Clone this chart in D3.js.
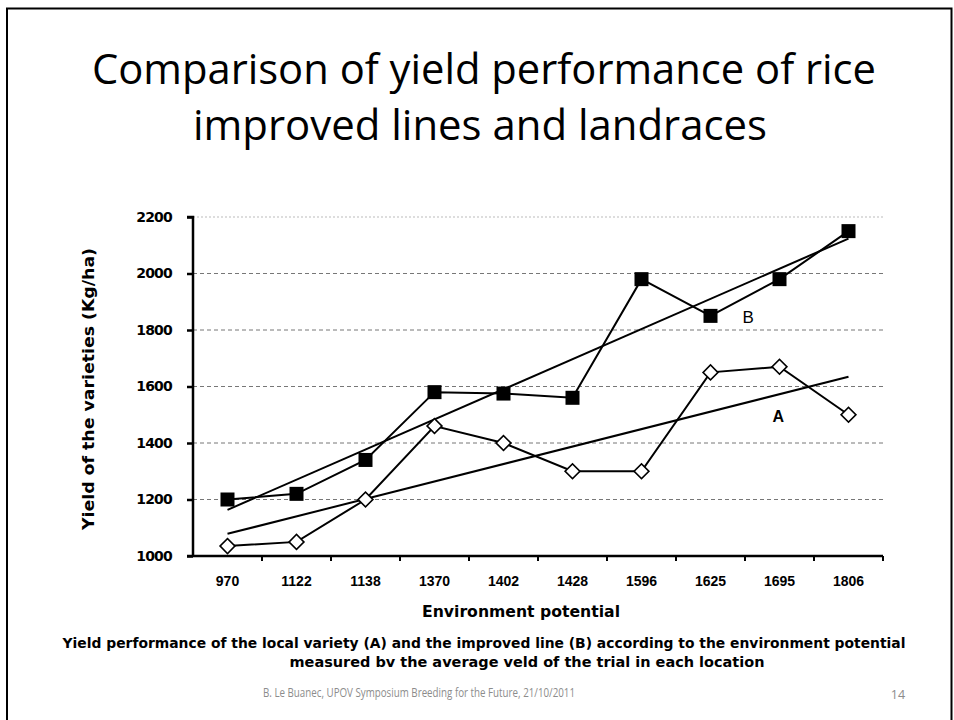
<!DOCTYPE html>
<html>
<head>
<meta charset="utf-8">
<script src="https://cdn.jsdelivr.net/npm/d3@7"></script>
<style>
  html, body { margin: 0; padding: 0; background: #fff; }
  svg { display: block; }
</style>
</head>
<body>
<svg id="chart" width="954" height="720"></svg>
<script>
// ---- data ----
const categories = ["970", "1122", "1138", "1370", "1402", "1428", "1596", "1625", "1695", "1806"];
const seriesA = [1035, 1050, 1200, 1460, 1400, 1300, 1300, 1650, 1670, 1500]; // local variety (open diamonds)
const seriesB = [1200, 1220, 1340, 1580, 1575, 1560, 1980, 1850, 1980, 2150]; // improved line (filled squares)
const yTicks = [1000, 1200, 1400, 1600, 1800, 2000, 2200];
const titleLines = ["Comparison of yield performance of rice", "improved lines and landraces"];
const captionLines = [
  "Yield performance of the local variety (A) and the improved line (B) according to the environment potential",
  "measured bv the average veld of the trial in each location"
];
const footerText = "B. Le Buanec, UPOV Symposium Breeding for the Future, 21/10/2011";
const pageNumber = "14";

const svg = d3.select("#chart");

// slide frame
svg.append("path")
  .attr("d", "M7,720 V8.5 H951.5 V720")
  .attr("fill", "none").attr("stroke", "#000").attr("stroke-width", 2);

// title
svg.append("text").attr("x", 484).attr("y", 84)
  .attr("text-anchor", "middle").attr("font-family", "'Open Sans', 'Noto Sans', sans-serif")
  .attr("font-size", 42).attr("fill", "#000")
  .attr("textLength", 784).attr("lengthAdjust", "spacingAndGlyphs")
  .text(titleLines[0]);
svg.append("text").attr("x", 480).attr("y", 140)
  .attr("text-anchor", "middle").attr("font-family", "'Open Sans', 'Noto Sans', sans-serif")
  .attr("font-size", 42).attr("fill", "#000")
  .attr("textLength", 574).attr("lengthAdjust", "spacingAndGlyphs")
  .text(titleLines[1]);

// scales
const x0 = 193, x1 = 883, yTop = 217, yBot = 556;
const x = d3.scaleBand().domain(categories).range([x0, x1]);
const y = d3.scaleLinear().domain([1000, 2200]).range([yBot, yTop]);
const cx = c => x(c) + x.bandwidth() / 2;

// gridlines
svg.append("g").selectAll("line").data(yTicks.filter(v => v > 1000)).join("line")
  .attr("x1", x0).attr("x2", x1)
  .attr("y1", d => y(d)).attr("y2", d => y(d))
  .attr("stroke", d => d === 2200 ? "#bbb" : "#777")
  .attr("stroke-width", 1)
  .attr("stroke-dasharray", d => d === 2200 ? "2,2" : "4,3");

// trend lines (least squares over category index)
function trend(vals) {
  const n = vals.length, xs = d3.range(n);
  const mx = d3.mean(xs), my = d3.mean(vals);
  const b = d3.sum(xs, i => (i - mx) * (vals[i] - my)) / d3.sum(xs, i => (i - mx) ** 2);
  const a = my - b * mx;
  return [[categories[0], a], [categories[n - 1], a + b * (n - 1)]];
}
const line = d3.line().x(d => cx(d[0])).y(d => y(d[1]));
[seriesA, seriesB].forEach(s => {
  svg.append("path").attr("d", line(trend(s)))
    .attr("fill", "none").attr("stroke", "#000").attr("stroke-width", 2);
});

// data lines
[seriesA, seriesB].forEach(s => {
  svg.append("path").attr("d", line(categories.map((c, i) => [c, s[i]])))
    .attr("fill", "none").attr("stroke", "#000").attr("stroke-width", 2);
});

// markers
svg.selectAll("rect.b").data(seriesB).join("rect")
  .attr("x", (d, i) => cx(categories[i]) - 7).attr("y", d => y(d) - 7)
  .attr("width", 14).attr("height", 14).attr("fill", "#000");
const sym = d3.symbol().type(d3.symbolSquare).size(110);
svg.selectAll("path.a").data(seriesA).join("path")
  .attr("d", sym)
  .attr("transform", (d, i) => `translate(${cx(categories[i])},${y(d)}) rotate(45)`)
  .attr("fill", "#fff").attr("stroke", "#000").attr("stroke-width", 1.6);

// axes
const yAxis = d3.axisLeft(y).tickValues(yTicks).tickSize(6).tickPadding(15).tickFormat(d3.format("d"));
const ya = svg.append("g").attr("transform", `translate(${x0},0)`).call(yAxis);
ya.select(".domain").attr("stroke-width", 2.5).attr("d", `M-6,${yTop}H0V${yBot}`);
ya.selectAll(".tick line").attr("stroke-width", 2.5);
ya.selectAll("text").attr("font-family", "'DejaVu Sans', sans-serif").attr("font-weight", "bold")
  .attr("font-size", 14).attr("fill", "#000").attr("letter-spacing", -0.8);

const xa = svg.append("g").attr("transform", `translate(0,${yBot})`);
xa.append("line").attr("x1", x0 - 6).attr("x2", x1).attr("y1", 0).attr("y2", 0)
  .attr("stroke", "#000").attr("stroke-width", 2.5);
xa.selectAll("line.t").data(categories.slice(1).concat([null])).join("line")
  .attr("x1", (d, i) => i < categories.length - 1 ? x(d) : x1)
  .attr("x2", (d, i) => i < categories.length - 1 ? x(d) : x1)
  .attr("y1", 0).attr("y2", 5).attr("stroke", "#000").attr("stroke-width", 2);
xa.selectAll("text").data(categories).join("text")
  .attr("x", d => cx(d)).attr("y", 30).attr("text-anchor", "middle")
  .attr("font-family", "'Liberation Sans Narrow', 'Liberation Sans', sans-serif").attr("font-weight", "bold")
  .attr("font-size", 14).attr("fill", "#000").text(d => d);

// axis titles
svg.append("text").attr("transform", `translate(94,389) rotate(-90)`)
  .attr("text-anchor", "middle").attr("font-family", "'DejaVu Sans', sans-serif").attr("font-weight", "bold")
  .attr("font-size", 15).attr("fill", "#000")
  .attr("textLength", 282).attr("lengthAdjust", "spacingAndGlyphs")
  .text("Yield of the varieties (Kg/ha)");
svg.append("text").attr("x", 521).attr("y", 617).attr("text-anchor", "middle")
  .attr("font-family", "'DejaVu Sans', sans-serif").attr("font-weight", "bold")
  .attr("font-size", 16).attr("fill", "#000")
  .attr("textLength", 198).attr("lengthAdjust", "spacingAndGlyphs")
  .text("Environment potential");

// series labels
svg.append("text").attr("x", cx("1625") + 32).attr("y", y(1850) + 7)
  .attr("font-family", "'Liberation Sans', sans-serif").attr("font-size", 17).attr("fill", "#000").text("B");
svg.append("text").attr("x", cx("1695") - 7).attr("y", y(1500) + 7)
  .attr("font-family", "'Liberation Sans', sans-serif").attr("font-weight", "bold").attr("font-size", 16).attr("fill", "#000").text("A");

// caption
svg.append("text").attr("x", 484).attr("y", 648).attr("text-anchor", "middle")
  .attr("font-family", "'DejaVu Sans', sans-serif").attr("font-weight", "bold")
  .attr("font-size", 13.5).attr("fill", "#000")
  .attr("textLength", 843).attr("lengthAdjust", "spacingAndGlyphs")
  .text(captionLines[0]);
svg.append("text").attr("x", 527).attr("y", 667).attr("text-anchor", "middle")
  .attr("font-family", "'DejaVu Sans', sans-serif").attr("font-weight", "bold")
  .attr("font-size", 13.5).attr("fill", "#000")
  .attr("textLength", 475).attr("lengthAdjust", "spacingAndGlyphs")
  .text(captionLines[1]);

// footer
svg.append("text").attr("x", 419).attr("y", 697).attr("text-anchor", "middle")
  .attr("font-family", "'Open Sans', sans-serif").attr("font-size", 12.5).attr("fill", "#8c8c8c")
  .attr("textLength", 312).attr("lengthAdjust", "spacingAndGlyphs")
  .text(footerText);
svg.append("text").attr("x", 898).attr("y", 699).attr("text-anchor", "middle")
  .attr("font-family", "'Open Sans', sans-serif").attr("font-size", 12.5).attr("fill", "#8c8c8c")
  .text(pageNumber);
</script>
</body>
</html>
